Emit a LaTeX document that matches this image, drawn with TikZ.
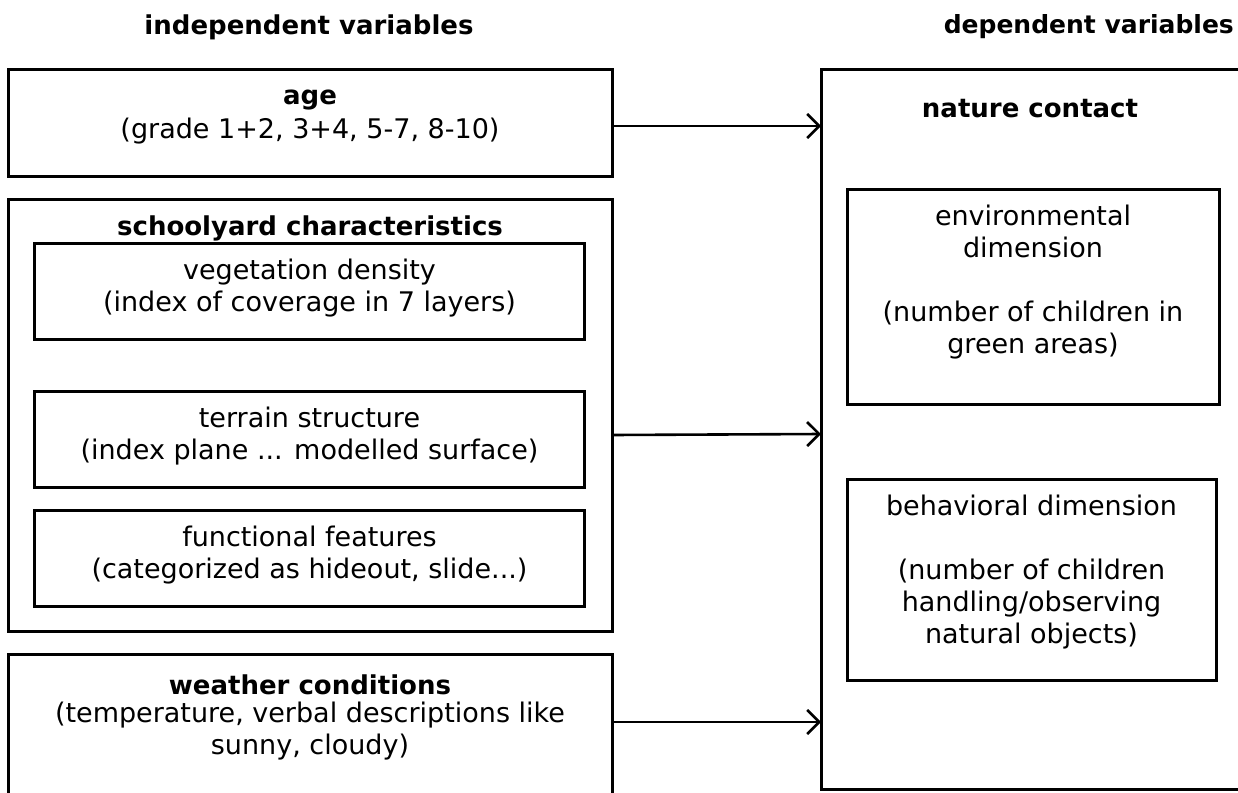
\documentclass[tikz,border=0pt]{standalone}
\usepackage{fontspec}
\setmainfont{DejaVu Sans}
\usetikzlibrary{arrows.meta}
\begin{document}
\begin{tikzpicture}[x=1pt,y=-1pt,
  box/.style={draw=black,line width=3pt,inner sep=0pt,outer sep=0pt},
  txt/.style={inner sep=0pt,font=\fontsize{27}{32}\selectfont,align=center},
  btxt/.style={txt,font=\fontsize{26}{32}\selectfont\bfseries},
  arr/.style={line width=2.6pt,-{Straight Barb[length=12pt,width=24pt,line width=2.6pt]}}]
\useasboundingbox (0,0) rectangle (1238,792);
% headings
\node[btxt] (hind) at (309,27) {independent variables};
\node[btxt,font=\fontsize{25}{32}\selectfont\bfseries,anchor=east] (hdep) at (1234,27) {dependent variables};
% left boxes
\node[box,minimum width=604pt,minimum height=107pt] (age) at (310,122.5) {};
\node[btxt] (agetitle) at (310,100) {age};
\node[txt] (agetext) at (310,131) {(grade 1+2, 3+4, 5-7, 8-10)};
\node[box,minimum width=604pt,minimum height=432pt] (school) at (310,415) {};
\node[btxt] (schooltitle) at (310,228) {schoolyard characteristics};
\node[box,minimum width=550pt,minimum height=96pt] (veg) at (309.5,291) {};
\node[txt] (vegtext) at (309.5,288) {vegetation density\\(index of coverage in 7 layers)};
\node[box,minimum width=550pt,minimum height=96pt] (terrain) at (309.5,439) {};
\node[txt] (terraintext) at (309.5,436) {terrain structure\\(index plane ... modelled surface)};
\node[box,minimum width=550pt,minimum height=96pt] (func) at (309.5,558) {};
\node[txt] (functext) at (309.5,555.5) {functional features\\(categorized as hideout, slide...)};
\node[box,minimum width=604pt,minimum height=150pt] (weather) at (310,729) {};
\node[btxt] (weathertitle) at (310,685) {weather conditions};
\node[txt] (weathertext) at (310,731.5) {(temperature, verbal descriptions like\\sunny, cloudy)};
% right boxes
\node[box,minimum width=430pt,minimum height=720pt] (nature) at (1036,429) {};
\node[btxt] (naturetitle) at (1030,109) {nature contact};
\node[box,minimum width=372pt,minimum height=215pt] (env) at (1033,296.5) {};
\node[txt] (envtext) at (1033,282.5) {environmental\\dimension\\[32pt](number of children in\\green areas)};
\node[box,minimum width=369pt,minimum height=201pt] (beh) at (1031.5,579.5) {};
\node[txt] (behtext) at (1031.5,572.5) {behavioral dimension\\[32pt](number of children\\handling/observing\\natural objects)};
% arrows
\draw[arr] (age.east |- 0,126) -- (nature.west |- 0,126);
\draw[arr] (school.east |- 0,435) -- (nature.west |- 0,434);
\draw[arr] (weather.east |- 0,722) -- (nature.west |- 0,722);
\end{tikzpicture}
\end{document}
